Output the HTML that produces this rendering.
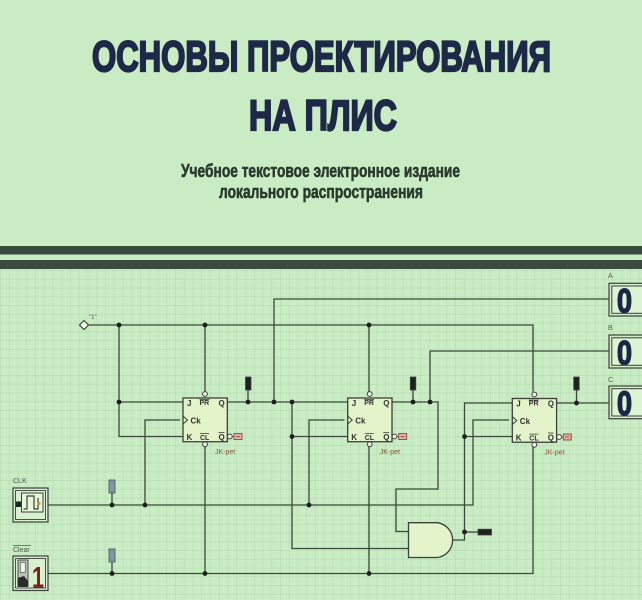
<!DOCTYPE html>
<html><head><meta charset="utf-8"><style>
html,body{margin:0;padding:0;background:#c9ecc4;}
svg{display:block;}
text{font-family:"Liberation Sans",sans-serif;}
</style></head><body>
<svg width="642" height="600" viewBox="0 0 642 600" xmlns="http://www.w3.org/2000/svg">
<defs>
<pattern id="grid" x="0" y="270" width="8.75" height="8.75" patternUnits="userSpaceOnUse">
<path d="M0 0.5 H8.75 M0.5 0 V8.75" stroke="#b6dcb0" stroke-width="0.6" fill="none"/>
</pattern>
</defs>
<rect x="0" y="0" width="642" height="600" fill="#c9ecc4"/>
<rect x="0" y="269" width="642" height="331" fill="url(#grid)"/>

<!-- Title -->
<text x="92" y="71" font-size="43" font-weight="bold" textLength="459" lengthAdjust="spacingAndGlyphs" fill="#1e2847" stroke="#1e2847" stroke-width="2.2">ОСНОВЫ ПРОЕКТИРОВАНИЯ</text>
<text x="249" y="130" font-size="43" font-weight="bold" textLength="148" lengthAdjust="spacingAndGlyphs" fill="#1e2847" stroke="#1e2847" stroke-width="2.2">НА ПЛИС</text>
<text x="181" y="177" font-size="18" font-weight="bold" textLength="279" lengthAdjust="spacingAndGlyphs" fill="#2b3a2e" stroke="#2b3a2e" stroke-width="0.6">Учебное текстовое электронное издание</text>
<text x="219" y="198" font-size="18" font-weight="bold" textLength="204" lengthAdjust="spacingAndGlyphs" fill="#2b3a2e" stroke="#2b3a2e" stroke-width="0.6">локального распространения</text>

<!-- Stripes -->
<rect x="0" y="246" width="642" height="8.5" fill="#3b4a3e"/>
<rect x="0" y="260" width="642" height="9" fill="#3b4a3e"/>

<!-- Wires -->
<g stroke="#3c473b" stroke-width="1.3" fill="none">
<path d="M88 325 H533 V391.7"/>
<path d="M119 325 V436.5 H183"/>
<path d="M119 402 H183"/>
<path d="M205 325 V391.7"/>
<path d="M369 325 V391.7"/>
<path d="M227 402 H347.7"/>
<path d="M274 402 V299 H609"/>
<path d="M292 402 V548.5 H408.5"/>
<path d="M292 436.5 H347.7"/>
<path d="M145 505 V420 H180"/>
<path d="M48 505 H473 V420 H509"/>
<path d="M309 505 V420 H344.5"/>
<path d="M48 573.5 H533 V446.6"/>
<path d="M205 446.6 V573.5"/>
<path d="M369 446.6 V573.5"/>
<path d="M391.7 402 H438 V489 H396 V531.5 H408.5"/>
<path d="M430 402 V351 H609"/>
<path d="M452 540 H464.5 V403 H512.3"/>
<path d="M464.5 436.5 H512.3"/>
<path d="M464.5 532 H478"/>
<path d="M555.7 403 H609"/>
<path d="M248 390 V402"/>
<path d="M413 390 V402"/>
<path d="M576.5 390 V403"/>
<path d="M112 493 V505"/>
<path d="M112 562 V573.5"/>
</g>

<!-- Input "1" diamond -->
<path d="M84 320.5 L88.5 325 L84 329.5 L79.5 325 Z" fill="#f4fbef" stroke="#3c473b" stroke-width="1.2"/>
<text x="89" y="319" font-size="6" fill="#555">"1"</text>

<!-- Flip-flops -->
<g id="ff1">
<rect x="183" y="398" width="44.3" height="43.7" fill="#e4f4ca" stroke="#3a3f38" stroke-width="1.3"/>
<path d="M183 416 L187.5 420 L183 424" fill="none" stroke="#3a3f38" stroke-width="1"/>
<circle cx="205" cy="394" r="2.4" fill="#f4fbef" stroke="#3a3f38" stroke-width="1"/>
<circle cx="205" cy="444.3" r="2.4" fill="#f4fbef" stroke="#3a3f38" stroke-width="1"/>
<circle cx="229.8" cy="436.5" r="2.4" fill="#f4fbef" stroke="#3a3f38" stroke-width="1"/>
<path d="M232.2 436.5 H234" stroke="#8a4a40" stroke-width="1"/>
<rect x="234" y="433.5" width="8" height="6" fill="#e0b0a8" stroke="#8a4a40" stroke-width="0.9"/>
<path d="M236 436.5 H240" stroke="#8a4a40" stroke-width="0.8"/>
<g font-size="8" fill="#333" font-weight="bold">
<text x="187" y="406">J</text>
<text x="199.5" y="405" font-size="7">PR</text>
<text x="218.5" y="406">Q</text>
<text x="190.5" y="423.5">Ck</text>
<text x="186.5" y="440">K</text>
<text x="200" y="440" font-size="7">CL</text>
<text x="218.5" y="440">Q</text>
</g>
<path d="M199.5 399.6 H209.5 M200 433.6 H209 M218.5 432.5 H224.5" stroke="#333" stroke-width="0.8"/>
<text x="215" y="454" font-size="7" fill="#8a5236">JK-pet</text>
</g>
<use href="#ff1" x="164.7"/>
<use href="#ff1" x="329.3" y="0.5"/>

<!-- AND gate -->
<path d="M408.5 522.7 H437 A17.5 17.5 0 0 1 437 557.5 H408.5 Z" fill="#e4f4ca" stroke="#3a3f38" stroke-width="1.3"/>

<!-- Dots -->
<g fill="#1c1f1b">
<circle cx="119" cy="325" r="2.4"/>
<circle cx="205" cy="325" r="2.4"/>
<circle cx="369" cy="325" r="2.4"/>
<circle cx="119" cy="402" r="2.4"/>
<circle cx="248" cy="402" r="2.4"/>
<circle cx="274" cy="402" r="2.4"/>
<circle cx="292" cy="402" r="2.4"/>
<circle cx="292" cy="436.5" r="2.4"/>
<circle cx="413" cy="402" r="2.4"/>
<circle cx="430" cy="402" r="2.4"/>
<circle cx="112" cy="505" r="2.4"/>
<circle cx="145" cy="505" r="2.4"/>
<circle cx="309" cy="505" r="2.4"/>
<circle cx="112" cy="573.5" r="2.4"/>
<circle cx="205" cy="573.5" r="2.4"/>
<circle cx="369" cy="573.5" r="2.4"/>
<circle cx="464.5" cy="436.5" r="2.4"/>
<circle cx="464.5" cy="532" r="2.4"/>
<circle cx="576.5" cy="403" r="2.4"/>
</g>

<!-- Probes -->
<rect x="245.5" y="377" width="5.5" height="13" fill="#1f211e" stroke="#444" stroke-width="0.8"/>
<rect x="410.3" y="377" width="5.5" height="13" fill="#1f211e" stroke="#444" stroke-width="0.8"/>
<rect x="573.7" y="377" width="5.5" height="13" fill="#1f211e" stroke="#444" stroke-width="0.8"/>
<rect x="478" y="529.2" width="13.5" height="5.8" fill="#1f211e" stroke="#444" stroke-width="0.8"/>
<rect x="109" y="480" width="6" height="13" fill="#7f98a4" stroke="#4e5e64" stroke-width="0.9"/>
<rect x="109" y="549" width="6" height="13" fill="#7f98a4" stroke="#4e5e64" stroke-width="0.9"/>

<!-- Displays -->
<g>
<text x="608" y="278" font-size="7" fill="#555">A</text>
<rect x="609" y="283.3" width="40" height="32.7" fill="#d3efcc" stroke="#3a3f38" stroke-width="1.2"/>
<rect x="611.8" y="286" width="40" height="27.3" fill="#dcf3d4" stroke="#3a3f38" stroke-width="1"/>
<text x="617" y="312.5" font-size="34" font-weight="bold" textLength="15" lengthAdjust="spacingAndGlyphs" fill="#1c2745" stroke="#1c2745" stroke-width="1.4">0</text>
<text x="608" y="330" font-size="7" fill="#555">B</text>
<rect x="609" y="335" width="40" height="33" fill="#d3efcc" stroke="#3a3f38" stroke-width="1.2"/>
<rect x="611.8" y="337.8" width="40" height="27.5" fill="#dcf3d4" stroke="#3a3f38" stroke-width="1"/>
<text x="617" y="364.5" font-size="34" font-weight="bold" textLength="15" lengthAdjust="spacingAndGlyphs" fill="#1c2745" stroke="#1c2745" stroke-width="1.4">0</text>
<text x="608" y="382" font-size="7" fill="#555">C</text>
<rect x="609" y="386" width="40" height="32.7" fill="#d3efcc" stroke="#3a3f38" stroke-width="1.2"/>
<rect x="611.8" y="388.7" width="40" height="27.3" fill="#dcf3d4" stroke="#3a3f38" stroke-width="1"/>
<text x="617" y="415" font-size="34" font-weight="bold" textLength="15" lengthAdjust="spacingAndGlyphs" fill="#1c2745" stroke="#1c2745" stroke-width="1.4">0</text>
</g>

<!-- CLK source -->
<text x="13" y="483" font-size="7" fill="#555">CLK</text>
<rect x="13" y="488" width="35" height="34" fill="#d8f0cf" stroke="#3a3f38" stroke-width="1.2"/>
<rect x="15.5" y="490.5" width="30" height="29" fill="none" stroke="#3a3f38" stroke-width="0.9"/>
<rect x="21.5" y="493" width="21.5" height="19" fill="#e8f6dc" stroke="#3a3f38" stroke-width="1"/>
<path d="M23.5 509 H27 V496 H34 V509 H38 V498" fill="none" stroke="#3a3f38" stroke-width="1.2"/>
<rect x="16" y="501.5" width="5" height="5.5" fill="#222"/>
<circle cx="39" cy="503.5" r="1.6" fill="#c89a3a"/>

<!-- Clear source -->
<text x="13" y="552" font-size="7" fill="#555">Clear</text>
<path d="M13 545.6 H31" stroke="#555" stroke-width="0.8"/>
<rect x="13" y="556" width="35" height="34.5" fill="#d8f0cf" stroke="#3a3f38" stroke-width="1.2"/>
<rect x="15.5" y="558.5" width="30" height="29.5" fill="none" stroke="#3a3f38" stroke-width="0.9"/>
<rect x="18" y="560" width="10" height="26" fill="#b8c4b4" stroke="#3a3f38" stroke-width="0.9"/>
<rect x="20.3" y="562.5" width="5" height="10" fill="#eef4ea" stroke="#555" stroke-width="0.7"/>
<path d="M17.5 578 L24 576 L28 581 L28 587 L17.5 587 Z" fill="#2a2d2a"/>
<text x="32" y="587.5" font-size="30" font-weight="bold" textLength="12" lengthAdjust="spacingAndGlyphs" fill="#7b2418">1</text>
</svg>
</body></html>
